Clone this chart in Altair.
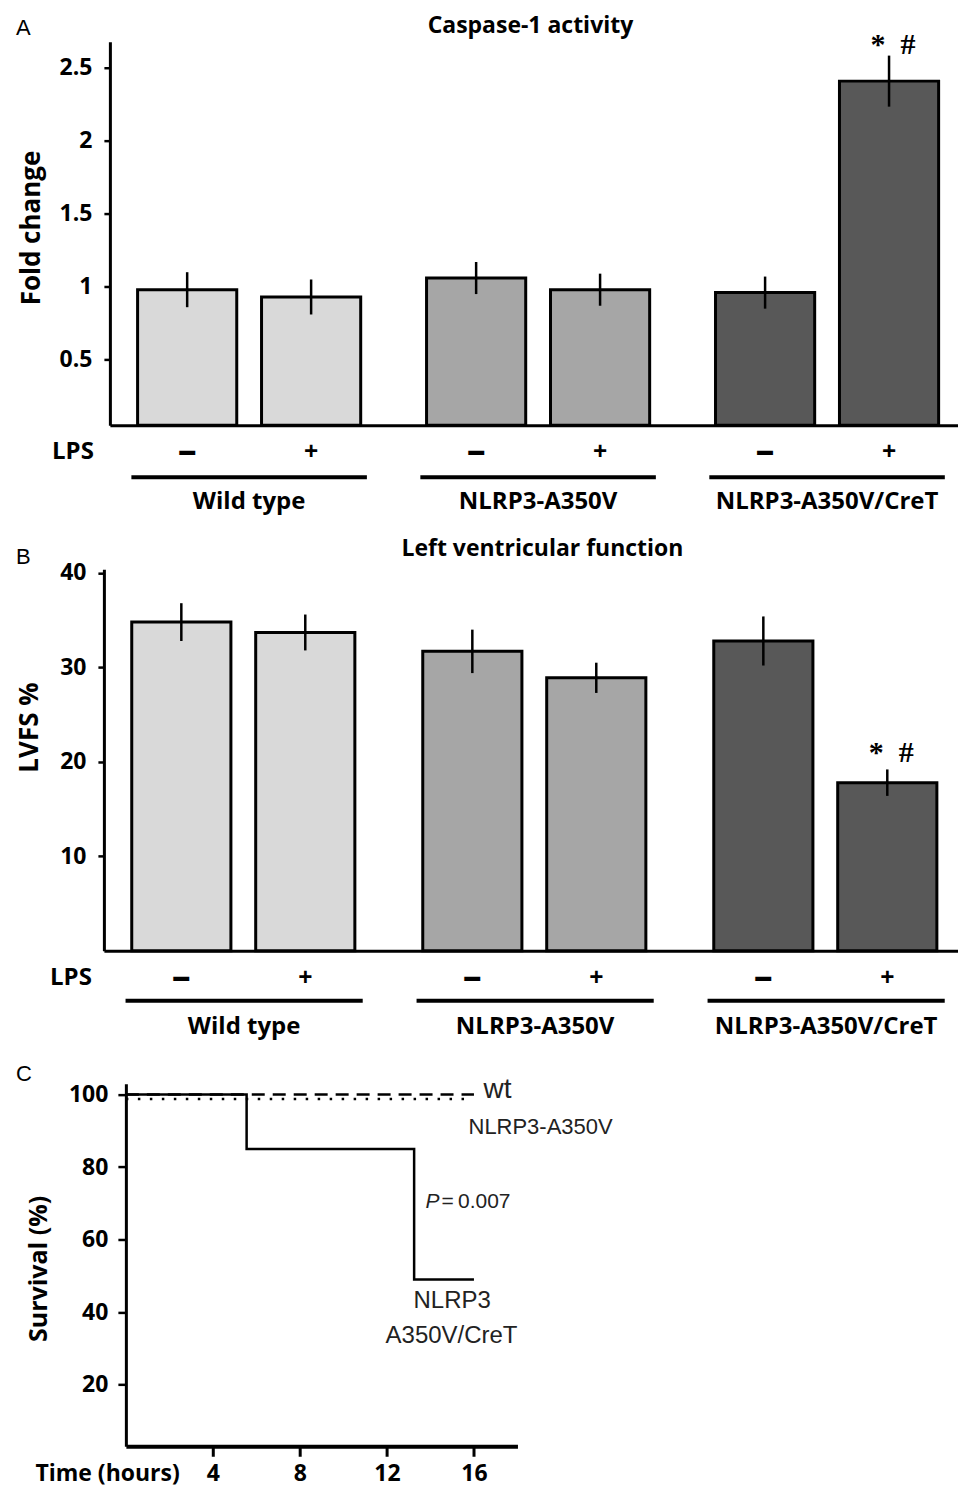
import altair as alt
import pandas as pd

# ---------------- data ----------------
GROUPS = ["Wild type", "NLRP3-A350V", "NLRP3-A350V/CreT"]
LPS_LEVELS = ["–", "+"]
GROUP_COLORS = ["#d9d9d9", "#a6a6a6", "#585858"]

bar_group = ["Wild type", "Wild type", "NLRP3-A350V", "NLRP3-A350V",
             "NLRP3-A350V/CreT", "NLRP3-A350V/CreT"]
bar_lps = ["–", "+", "–", "+", "–", "+"]

# Panel A: Caspase-1 activity (fold change)
casp_mean = [0.98, 0.93, 1.06, 0.98, 0.96, 2.41]
casp_sem = [0.12, 0.12, 0.11, 0.11, 0.11, 0.175]
casp_ticks = [0.5, 1, 1.5, 2, 2.5]

# Panel B: Left ventricular function (LVFS %)
lvfs_mean = [34.8, 33.7, 31.7, 28.9, 32.8, 17.8]
lvfs_sem = [2.0, 1.9, 2.3, 1.6, 2.6, 1.4]
lvfs_ticks = [10, 20, 30, 40]

# Panel C: survival
wt_time = [0, 16]
wt_surv = [100, 100]
a350v_time = [0, 15.7]
a350v_surv = [98.8, 98.8]
cret_time = [0, 5.55, 13.25, 16]
cret_surv = [100, 85, 49, 49]
surv_xticks = [4, 8, 12, 16]
surv_yticks = [20, 40, 60, 80, 100]

lbl_left_text = ["wt", "NLRP3-A350V"]
lbl_left_time = [16.44, 15.75]
lbl_left_surv = [99.1, 89.2]
lbl_left_size = [28, 22]

lbl_center_text = ["NLRP3", "A350V/CreT"]
lbl_center_time = [15.0, 14.97]
lbl_center_surv = [41.0, 31.4]

pval_time = [13.77, 14.51]
pval_surv = [68.8, 68.8]
pval_text = ["P", "=\u20090.007"]
pval_style = ["italic", "normal"]

SIG_TEXT = "*\u00a0\u00a0#"

FONT_B = "Open Sans"
FONT_R = "Liberation Sans"


def anchor(x, y):
    # invisible mark fixing the top-left corner of the whole figure
    return alt.Chart(pd.DataFrame({"a": [0]})).mark_rule(color="white", strokeWidth=1).encode(
        x=alt.value(x), x2=alt.value(x), y=alt.value(y), y2=alt.value(y + 1))


def bar_panel(means, sems, cfg, extra=None):
    W, H, HR, XO = cfg["W"], cfg["H"], cfg["HR"], cfg["XO"]
    df = pd.DataFrame({
        "group": bar_group, "lps": bar_lps, "value": means,
        "lo": [m - s for m, s in zip(means, sems)],
        "hi": [m + s for m, s in zip(means, sems)],
    })
    df["sign_fs"] = [38 if l == "–" else 25 for l in df["lps"]]
    sig = df[(df["group"] == GROUPS[2]) & (df["lps"] == "+")].assign(mark=SIG_TEXT)
    gdf = pd.DataFrame({"group": GROUPS})

    xg = alt.X("group:N", sort=GROUPS,
               scale=alt.Scale(domain=GROUPS, range=[XO, W], paddingInner=0.185,
                               paddingOuter=0.06, align=0.62),
               axis=alt.Axis(labels=False, ticks=False, title=None, grid=False,
                             domainWidth=3, domainColor="black", offset=HR - H))
    xo = alt.XOffset("lps:N", sort=LPS_LEVELS,
                     scale=alt.Scale(domain=LPS_LEVELS, paddingInner=0.2, paddingOuter=0.05))
    ys = alt.Scale(domain=cfg["domain"], range=[HR, 0], zero=False, nice=False, clamp=True)
    yaxis = alt.Axis(values=cfg["ticks"], format=cfg["fmt"], grid=False, offset=-XO,
                     domainWidth=3, domainColor="black", tickColor="black",
                     tickWidth=2.5, tickSize=cfg["tickSize"], labelPadding=cfg["labelPadding"],
                     labelFont=FONT_B, labelFontWeight="bold", labelFontSize=23,
                     labelColor="black", title=cfg["ytitle"], titleFont=FONT_B,
                     titleFontWeight="bold", titleFontSize=26, titleColor="black",
                     titleAngle=270, titleX=cfg["titleX"], titleY=cfg["titleY"],
                     titleBaseline="middle", titleAlign="center")

    bars = alt.Chart(df).mark_bar(stroke="black", strokeWidth=3).encode(
        x=xg, xOffset=xo,
        y=alt.Y("value:Q", scale=ys, axis=yaxis, stack=None),
        color=alt.Color("group:N", scale=alt.Scale(domain=GROUPS, range=GROUP_COLORS), legend=None),
    )
    err = alt.Chart(df).mark_rule(color="black", strokeWidth=2.5).encode(
        x=xg, xOffset=xo,
        y=alt.Y("lo:Q", scale=ys, axis=yaxis), y2="hi:Q",
    )
    sigt = alt.Chart(sig).mark_text(font="Liberation Serif", fontWeight="bold", fontSize=30,
                                    color="black", baseline="alphabetic", dx=4,
                                    dy=cfg["sig_dy"]).encode(
        x=xg, xOffset=xo, y=alt.Y("hi:Q", scale=ys, axis=yaxis), text="mark:N",
    )
    signs = alt.Chart(df).mark_text(font=FONT_B, fontWeight="bold",
                                    color="black", baseline="middle").encode(
        x=xg, xOffset=xo, y=alt.value(HR + 27), text="lps:N",
        size=alt.Size("sign_fs:Q", scale=None, legend=None),
    )
    lpsl = alt.Chart(pd.DataFrame({"t": ["LPS"]})).mark_text(
        font=FONT_B, fontWeight="bold", fontSize=24, color="black", baseline="middle").encode(
        x=alt.value(cfg["lps_x"] + XO), y=alt.value(HR + 27), text="t:N",
    )
    under = alt.Chart(gdf).mark_rect(color="black").encode(
        x=xg, y=alt.value(HR + cfg["under_y"]), y2=alt.value(HR + cfg["under_y"] + 4),
    )
    names = alt.Chart(gdf).mark_text(font=FONT_B, fontWeight="bold", fontSize=24,
                                     color="black", baseline="middle").encode(
        x=xg, y=alt.value(HR + cfg["names_y"]), text="group:N",
    )
    title = alt.Chart(pd.DataFrame({"t": [cfg["title"]]})).mark_text(
        font=FONT_B, fontWeight="bold", fontSize=23, color="black",
        baseline="alphabetic", align="center").encode(
        x=alt.value(cfg["title_x"] + XO), y=alt.value(cfg["title_y"]), text="t:N",
    )
    letter = alt.Chart(pd.DataFrame({"t": [cfg["letter"]]})).mark_text(
        font=FONT_R, fontSize=22, color="black", baseline="alphabetic", align="left").encode(
        x=alt.value(cfg["letter_x"] + XO), y=alt.value(cfg["letter_y"]), text="t:N",
    )
    layers = [bars, err, sigt, signs, lpsl, under, names, title, letter]
    if extra is not None:
        layers.append(extra)
    return alt.layer(*layers).properties(width=W, height=H)


# all panels share one left edge (x0 = page 103); A is shifted 6px, C 22px inside it
panel_a = bar_panel(casp_mean, casp_sem, dict(
    W=855, H=384, HR=384, XO=6, domain=[0.05, 2.68], ticks=casp_ticks, fmt=".1~f",
    tickSize=6, labelPadding=12,
    ytitle="Fold change", titleX=-78, titleY=186, sig_dy=-2, lps_x=-37,
    under_y=50, names_y=77, title="Caspase-1 activity", title_x=421, title_y=-9,
    letter="A", letter_x=-94, letter_y=-7), extra=anchor(-94, -32))

panel_b = bar_panel(lvfs_mean, lvfs_sem, dict(
    W=855, H=371, HR=382, XO=0, domain=[0, 40.4], ticks=lvfs_ticks, fmt="d",
    tickSize=6, labelPadding=12,
    ytitle="LVFS %", titleX=-74, titleY=158, sig_dy=-7, lps_x=-33,
    under_y=48, names_y=76, title="Left ventricular function", title_x=439, title_y=-13,
    letter="B", letter_x=-88, letter_y=-5))


def surv_panel():
    XO = 22
    W, H = 392 + XO, 363
    xs = alt.Scale(domain=[0, 18], range=[XO, W], nice=False, zero=False)
    ys = alt.Scale(domain=[3, 103], nice=False, zero=False)
    xaxis = alt.Axis(values=surv_xticks, format="d", grid=False, domainWidth=4,
                     domainColor="black", tickColor="black", tickWidth=3, tickSize=10,
                     labelFont=FONT_B, labelFontWeight="bold", labelFontSize=23,
                     labelColor="black", labelPadding=6, title="Time (hours)",
                     titleFont=FONT_B, titleFontWeight="bold", titleFontSize=23,
                     titleColor="black", titleX=-91 + XO, titleY=27, titleAlign="left",
                     titleBaseline="middle", titleAnchor="start")
    yaxis = alt.Axis(values=surv_yticks, format="d", grid=False, domainWidth=3, offset=-XO,
                     domainColor="black", tickColor="black", tickWidth=2.5, tickSize=8,
                     labelFont=FONT_B, labelFontWeight="bold", labelFontSize=23,
                     labelColor="black", labelPadding=10, title="Survival (%)",
                     titleFont=FONT_B, titleFontWeight="bold", titleFontSize=25,
                     titleColor="black", titleAngle=270, titleX=-87, titleY=185,
                     titleBaseline="middle", titleAlign="center")
    X = alt.X("time:Q", scale=xs, axis=xaxis)
    Y = alt.Y("surv:Q", scale=ys, axis=yaxis)

    wt = alt.Chart(pd.DataFrame({"time": wt_time, "surv": wt_surv})).mark_line(
        color="black", strokeWidth=2.5, strokeDash=[13, 8]).encode(x=X, y=Y)
    a350 = alt.Chart(pd.DataFrame({"time": a350v_time, "surv": a350v_surv})).mark_line(
        color="black", strokeWidth=2.5, strokeDash=[2.5, 9.5]).encode(x=X, y=Y)
    cret = alt.Chart(pd.DataFrame({"time": cret_time, "surv": cret_surv})).mark_line(
        color="black", strokeWidth=2.5, interpolate="step-after").encode(x=X, y=Y)

    left_lbl = alt.Chart(pd.DataFrame({"t": lbl_left_text, "time": lbl_left_time,
                                       "surv": lbl_left_surv, "fs": lbl_left_size})).mark_text(
        font=FONT_R, color="#222222", align="left", baseline="alphabetic").encode(
        x=X, y=Y, text="t:N", size=alt.Size("fs:Q", scale=None, legend=None))
    center_lbl = alt.Chart(pd.DataFrame({"t": lbl_center_text, "time": lbl_center_time,
                                         "surv": lbl_center_surv})).mark_text(
        font=FONT_R, fontSize=24, color="#222222", align="center", baseline="alphabetic").encode(
        x=X, y=Y, text="t:N")
    p_it = alt.Chart(pd.DataFrame({"t": pval_text[:1], "time": pval_time[:1],
                                   "surv": pval_surv[:1]})).mark_text(
        font=FONT_R, fontSize=21, fontStyle=pval_style[0], color="#222222",
        align="left", baseline="alphabetic").encode(x=X, y=Y, text="t:N")
    p_rest = alt.Chart(pd.DataFrame({"t": pval_text[1:], "time": pval_time[1:],
                                     "surv": pval_surv[1:]})).mark_text(
        font=FONT_R, fontSize=21, fontStyle=pval_style[1], color="#222222",
        align="left", baseline="alphabetic").encode(x=X, y=Y, text="t:N")
    letter = alt.Chart(pd.DataFrame({"t": ["C"]})).mark_text(
        font=FONT_R, fontSize=22, color="black", baseline="alphabetic", align="left").encode(
        x=alt.value(-110 + XO), y=alt.value(-3), text="t:N")
    return alt.layer(wt, a350, cret, left_lbl, center_lbl, p_it, p_rest, letter).properties(
        width=W, height=H)


panel_c = surv_panel()

chart = alt.vconcat(
    panel_a, panel_b, panel_c, spacing=144, bounds="flush",
    padding={"left": 1, "top": 0, "right": 0, "bottom": 6}, background="white",
).configure_view(stroke=None)

chart.save("out.html", embed_options={"renderer": "svg", "actions": False})
